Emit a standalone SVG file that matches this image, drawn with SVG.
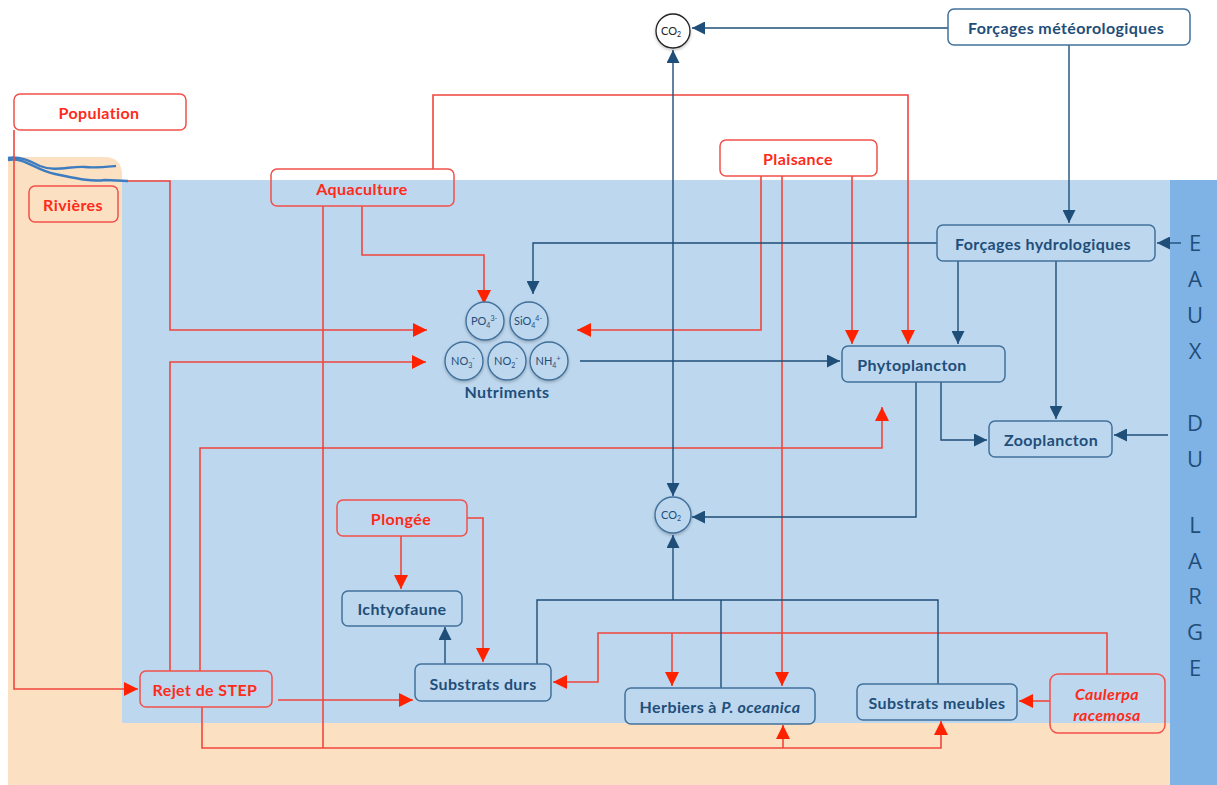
<svg xmlns="http://www.w3.org/2000/svg" width="1217" height="785" viewBox="0 0 1217 785">
<defs>
<style>
.bx{stroke-width:1.5}
.rb{fill:none;stroke:#F2504A}
.rbw{fill:#fff;stroke:#F2504A}
.bb{fill:#BDD7EE;stroke:#41719C}
.bbw{fill:#fff;stroke:#41719C}
.rt{font-family:Lato,"Open Sans",sans-serif;font-weight:bold;font-size:16px;letter-spacing:0.4px;fill:#FF2A1A;text-anchor:middle;dominant-baseline:central}
.bt{font-family:Lato,"Open Sans",sans-serif;font-weight:bold;font-size:16px;letter-spacing:0.4px;fill:#1F4E79;text-anchor:middle;dominant-baseline:central}
.ct{font-family:Lato,"Open Sans",sans-serif;font-size:11px;fill:#1F4E79;text-anchor:middle}
.el{font-family:"Open Sans",Lato,sans-serif;font-size:22px;fill:#1F4E79;text-anchor:middle}
.rl{fill:none;stroke:#F0463C;stroke-width:1.6}
.bl{fill:none;stroke:#1F4E79;stroke-width:1.4}
.nc{fill:#BDD7EE;stroke:#41719C;stroke-width:1.4}
</style>
<marker id="ar" viewBox="0 0 14 14" refX="14" refY="7" markerWidth="14" markerHeight="14" markerUnits="userSpaceOnUse" orient="auto"><path d="M0,0 L14,7 L0,14 Z" fill="#FF2200"/></marker>
<marker id="ab" viewBox="0 0 14 14" refX="14" refY="7" markerWidth="13" markerHeight="13" markerUnits="userSpaceOnUse" orient="auto"><path d="M0,0 L14,7 L0,14 Z" fill="#1F4E79"/></marker>
<filter id="sh" x="-30%" y="-30%" width="160%" height="160%"><feDropShadow dx="0" dy="1.5" stdDeviation="1.5" flood-color="#000" flood-opacity="0.25"/></filter>
</defs>
<rect width="1217" height="785" fill="#fff"/>
<g id="background">
<path d="M8,157 H104 Q122,157 122,175 V723 H1170 V785 H8 Z" fill="#FCE0C2"/>
<rect x="122" y="180" width="1048" height="543" fill="#BDD7EE"/>
<rect x="1170" y="180" width="47" height="605" fill="#7FB3E6"/>
<path d="M8,158 C20,156 30,161 40,166 C55,172 70,166 85,167 C95,168 105,167 116,166" fill="none" stroke="#3E7CC0" stroke-width="2.4"/>
<path d="M8,160 C25,157 35,170 55,174 C75,178 90,182 105,180 L128,181" fill="none" stroke="#3E7CC0" stroke-width="2.4"/>
</g>
<g id="connectors">
<path class="rl" d="M14,130 V689 H138" marker-end="url(#ar)"/>
<path class="rl" d="M128,181 H170 V330 H427" marker-end="url(#ar)"/>
<path class="rl" d="M170,671 V362 H426" marker-end="url(#ar)"/>
<path class="rl" d="M200,671 V448 H882 V407" marker-end="url(#ar)"/>
<path class="rl" d="M202,707 V748 H941 V721" marker-end="url(#ar)"/>
<path class="rl" d="M783,748 V725" marker-end="url(#ar)"/>
<path class="rl" d="M278,700 H413" marker-end="url(#ar)"/>
<path class="rl" d="M433,169 V95 H908 V344" marker-end="url(#ar)"/>
<path class="rl" d="M362,206 V255 H484 V304" marker-end="url(#ar)"/>
<path class="rl" d="M323,206 V748"/>
<path class="rl" d="M761,176 V330 H577" marker-end="url(#ar)"/>
<path class="rl" d="M782,176 V686" marker-end="url(#ar)"/>
<path class="rl" d="M852,176 V344" marker-end="url(#ar)"/>
<path class="rl" d="M467,518 H483 V662" marker-end="url(#ar)"/>
<path class="rl" d="M401,536 V589" marker-end="url(#ar)"/>
<path class="rl" d="M1107,674 V633 H598 V682 H553" marker-end="url(#ar)"/>
<path class="rl" d="M672,633 V686" marker-end="url(#ar)"/>
<path class="rl" d="M1050,701 H1019" marker-end="url(#ar)"/>
<path class="bl" d="M948,28 H692" marker-end="url(#ab)"/>
<path class="bl" d="M1069,45 V223" marker-end="url(#ab)"/>
<path class="bl" d="M1181,243 H1157" marker-end="url(#ab)"/>
<path class="bl" d="M1168,435 H1114" marker-end="url(#ab)"/>
<path class="bl" d="M937,243 H533 V294" marker-end="url(#ab)"/>
<path class="bl" d="M958,261 V344" marker-end="url(#ab)"/>
<path class="bl" d="M1056,261 V419" marker-end="url(#ab)"/>
<path class="bl" d="M580,361 H840" marker-end="url(#ab)"/>
<path class="bl" d="M916,382 V517 H692" marker-end="url(#ab)"/>
<path class="bl" d="M941,382 V440 H987" marker-end="url(#ab)"/>
<path class="bl" d="M673,270 V50" marker-end="url(#ab)"/>
<path class="bl" d="M673,270 V496" marker-end="url(#ab)"/>
<path class="bl" d="M537,664 V600 H938 V684"/>
<path class="bl" d="M721,600 V688"/>
<path class="bl" d="M673,600 V535" marker-end="url(#ab)"/>
<path class="bl" d="M445,664 V627" marker-end="url(#ab)"/>
</g>
<g id="population"><rect class="bx rbw" x="14" y="94" width="172" height="36" rx="6"/><text class="rt" x="99" y="112">Population</text></g>
<g id="rivieres"><rect class="bx rb" x="29" y="186" width="89" height="36" rx="6"/><text class="rt" x="73" y="204">Rivières</text></g>
<g id="aquaculture"><rect class="bx rb" x="271" y="169" width="183" height="37" rx="6"/><text class="rt" x="362" y="188">Aquaculture</text></g>
<g id="plaisance"><rect class="bx rbw" x="720" y="140" width="157" height="36" rx="6"/><text class="rt" x="798" y="158">Plaisance</text></g>
<g id="forcages-meteo"><rect class="bx bbw" x="948" y="9" width="242" height="36" rx="6"/><text class="bt" x="1066" y="27">Forçages météorologiques</text></g>
<g id="co2-top"><circle cx="673" cy="31" r="17" fill="#fff" stroke="#222" stroke-width="1.3" filter="url(#sh)"/><text class="ct" x="671" y="35" style="fill:#222">CO<tspan font-size="7" dy="2">2</tspan></text></g>
<g id="forcages-hydro"><rect class="bx bb" x="937" y="225" width="218" height="36" rx="6"/><text class="bt" x="1043" y="243">Forçages hydrologiques</text></g>
<g id="nutriments">
<circle class="nc" cx="485" cy="321" r="19" filter="url(#sh)"/><text class="ct" x="484" y="325">PO<tspan font-size="7" dy="3">4</tspan><tspan font-size="7" dy="-7">3-</tspan></text>
<circle class="nc" cx="529" cy="321" r="19" filter="url(#sh)"/><text class="ct" x="528" y="325">SiO<tspan font-size="7" dy="3">4</tspan><tspan font-size="7" dy="-7">4-</tspan></text>
<circle class="nc" cx="464" cy="361" r="19" filter="url(#sh)"/><text class="ct" x="463" y="365">NO<tspan font-size="7" dy="3">3</tspan><tspan font-size="7" dy="-7">-</tspan></text>
<circle class="nc" cx="507" cy="361" r="19" filter="url(#sh)"/><text class="ct" x="506" y="365">NO<tspan font-size="7" dy="3">2</tspan><tspan font-size="7" dy="-7">-</tspan></text>
<circle class="nc" cx="549" cy="361" r="19" filter="url(#sh)"/><text class="ct" x="548" y="365">NH<tspan font-size="7" dy="3">4</tspan><tspan font-size="7" dy="-7">+</tspan></text>
<text class="bt" x="507" y="391">Nutriments</text>
</g>
<g id="phytoplancton"><rect class="bx bb" x="842" y="346" width="163" height="36" rx="6"/><text class="bt" x="912" y="364">Phytoplancton</text></g>
<g id="zooplancton"><rect class="bx bb" x="989" y="421" width="123" height="36" rx="6"/><text class="bt" x="1051" y="439">Zooplancton</text></g>
<g id="co2-mid"><circle class="nc" cx="673" cy="515" r="18" filter="url(#sh)"/><text class="ct" x="671" y="519">CO<tspan font-size="7" dy="2">2</tspan></text></g>
<g id="plongee"><rect class="bx rb" x="337" y="500" width="130" height="36" rx="6"/><text class="rt" x="401" y="518">Plongée</text></g>
<g id="ichtyofaune"><rect class="bx bb" x="342" y="591" width="120" height="35" rx="6"/><text class="bt" x="402" y="608">Ichtyofaune</text></g>
<g id="substrats-durs"><rect class="bx bb" x="415" y="664" width="136" height="37" rx="6"/><text class="bt" x="483" y="683">Substrats durs</text></g>
<g id="herbiers"><rect class="bx bb" x="625" y="688" width="190" height="36" rx="6"/><text class="bt" x="720" y="706">Herbiers à <tspan font-style="italic">P. oceanica</tspan></text></g>
<g id="substrats-meubles"><rect class="bx bb" x="857" y="684" width="160" height="36" rx="6"/><text class="bt" x="937" y="702">Substrats meubles</text></g>
<g id="caulerpa"><rect class="bx" x="1050" y="674" width="115" height="59" rx="8" fill="none" stroke="#F2504A"/><text class="rt" x="1107" y="693" font-style="italic" font-weight="normal">Caulerpa</text><text class="rt" x="1107" y="714" font-style="italic" font-weight="normal">racemosa</text></g>
<g id="rejet-step"><rect class="bx rb" x="140" y="671" width="132" height="36" rx="6"/><text class="rt" x="205" y="689">Rejet de STEP</text></g>
<g id="eaux-du-large">
<text class="el" x="1195" y="251">E</text><text class="el" x="1195" y="287">A</text><text class="el" x="1195" y="323">U</text><text class="el" x="1195" y="359">X</text>
<text class="el" x="1195" y="431">D</text><text class="el" x="1195" y="467">U</text>
<text class="el" x="1195" y="533">L</text><text class="el" x="1195" y="569">A</text><text class="el" x="1195" y="604">R</text><text class="el" x="1195" y="640">G</text><text class="el" x="1195" y="676">E</text>
</g>
</svg>
